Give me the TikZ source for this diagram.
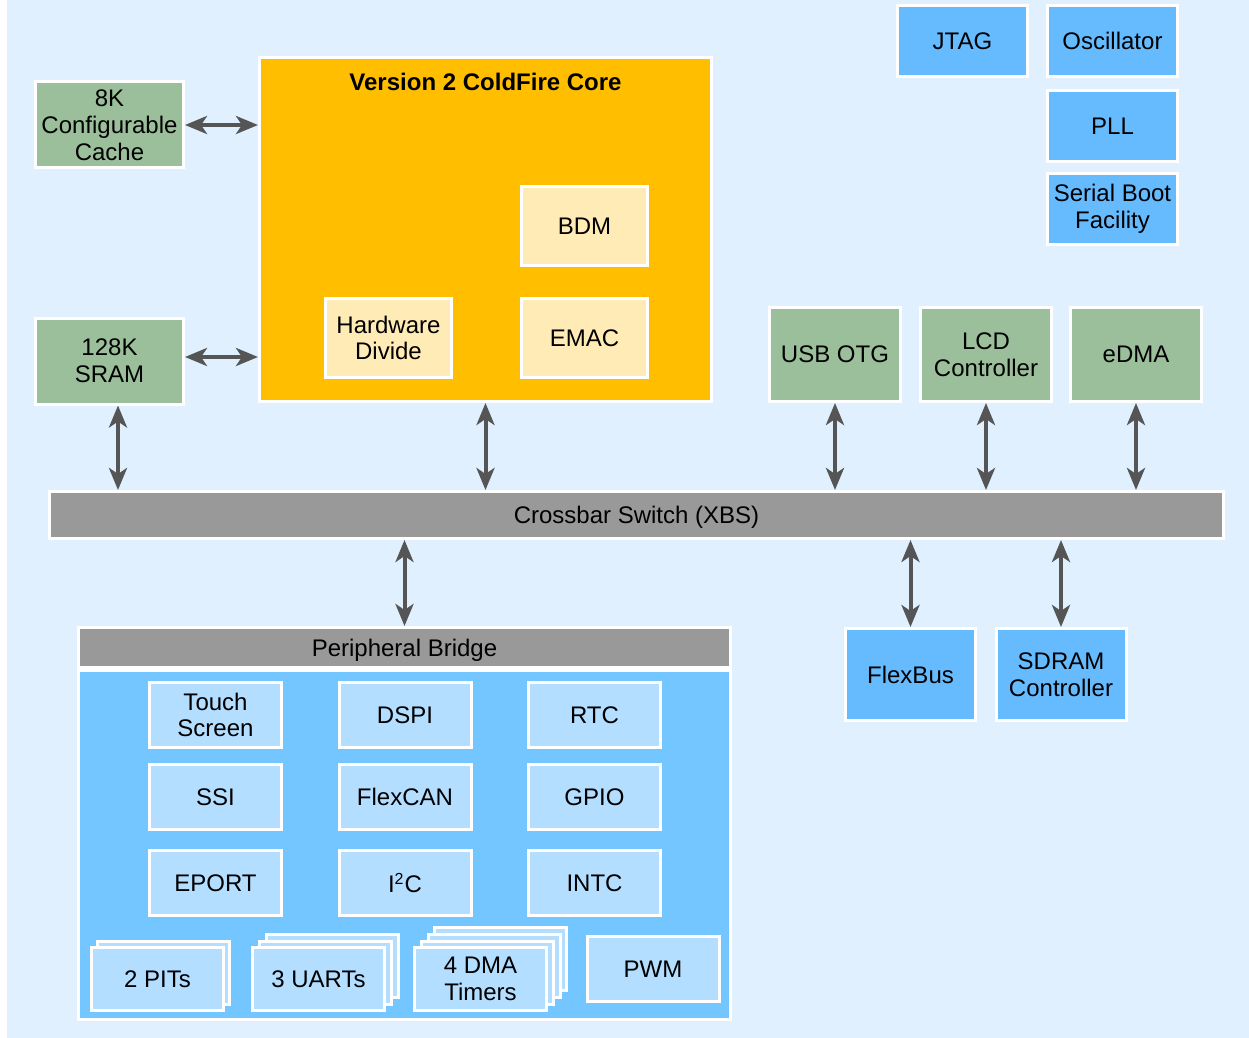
\documentclass[tikz,border=0pt]{standalone}
\usepackage{fontspec}
\setmainfont{Liberation Sans}
\usetikzlibrary{arrows.meta}
\definecolor{bgblue}{HTML}{E0F0FF}
\definecolor{modgreen}{HTML}{9BBF9B}
\definecolor{coreorange}{HTML}{FFBF00}
\definecolor{corecream}{HTML}{FFEBB5}
\definecolor{sysblue}{HTML}{66BBFF}
\definecolor{bridgeblue}{HTML}{73C6FF}
\definecolor{periblue}{HTML}{B3DEFF}
\definecolor{busgray}{HTML}{999999}
\definecolor{arrowgray}{HTML}{555555}
\begin{document}
\begin{tikzpicture}[x=0.5pt,y=-0.5pt,
 block/.style ={rectangle, draw=white, line width=1.5pt, align=center, inner sep=0pt, font=\fontsize{12}{13.4}\selectfont},
 sysblock/.style ={block, fill=sysblue, minimum width=65pt, minimum height=35.5pt},
 memblock/.style ={block, fill=modgreen, minimum width=74pt, minimum height=43pt},
 masterblock/.style ={block, fill=modgreen, minimum width=65.5pt, minimum height=47pt},
 coreblock/.style ={block, fill=corecream, minimum width=63pt, minimum height=39.5pt},
 extblock/.style ={block, fill=sysblue, minimum width=65pt, minimum height=46pt},
 periph/.style ={block, fill=periblue, minimum width=66pt, minimum height=32.5pt},
 stackbox/.style ={block, fill=periblue, minimum width=66pt, minimum height=31.5pt},
 line/.style ={draw=arrowgray, line width=2pt, {Stealth[length=11pt,width=9pt,inset=3pt]}-{Stealth[length=11pt,width=9pt,inset=3pt]}}]

\useasboundingbox (0,0) rectangle (1249,1038);
\fill[bgblue] (7,0) rectangle (1249,1038);

% system blocks, top right
\draw (962.5,41) node[sysblock] (jtag) {JTAG};
\draw (1112.5,41) node[sysblock] (osc) {Oscillator};
\draw (1112.5,126) node[sysblock] (pll) {PLL};
\draw (1112.5,209) node[sysblock] (sbf) {Serial Boot\\Facility};

% memories
\draw (109.5,125) node[memblock] (cache) {8K\\Configurable\\Cache};
\draw (109.5,361) node[memblock] (sram) {128K\\SRAM};

% core
\draw (485.5,229.5) node[block, fill=coreorange, minimum width=226pt, minimum height=172pt] (core) {};
\draw (485.5,82) node[font=\fontsize{12}{13.4}\selectfont\bfseries] (coretitle) {Version 2 ColdFire Core};
\draw (584.5,226) node[coreblock] (bdm) {BDM};
\draw (388.5,338) node[coreblock] (hwdiv) {Hardware\\Divide};
\draw (584.5,338) node[coreblock] (emac) {EMAC};

% bus masters
\draw (835,354.5) node[masterblock] (usb) {USB OTG};
\draw (986,354.5) node[masterblock] (lcd) {LCD\\Controller};
\draw (1136,354.5) node[masterblock] (edma) {eDMA};

% crossbar
\draw (636.5,515) node[block, fill=busgray, minimum width=587pt, minimum height=23.5pt, text depth=0pt] (xbs) {Crossbar Switch (XBS)};

% external bus
\draw (910.5,674.5) node[extblock] (flexbus) {FlexBus};
\draw (1061,674.5) node[extblock] (sdram) {SDRAM\\Controller};

% peripheral bridge
\draw (404.5,845) node[block, fill=bridgeblue, minimum width=326pt, minimum height=174.5pt] (bridgebody) {};
\draw (404.5,647.5) node[block, fill=busgray, minimum width=326pt, minimum height=20pt, text depth=0pt] (bridge) {Peripheral Bridge};

\draw (215.5,715) node[periph] (touch) {Touch\\Screen};
\draw (405,715) node[periph] (dspi) {DSPI};
\draw (594.5,715) node[periph] (rtc) {RTC};
\draw (215.5,797) node[periph] (ssi) {SSI};
\draw (405,797) node[periph] (flexcan) {FlexCAN};
\draw (594.5,797) node[periph] (gpio) {GPIO};
\draw (215.5,883) node[periph] (eport) {EPORT};
\draw (405,883) node[periph] (iic) {I\textsuperscript{2}C};
\draw (594.5,883) node[periph] (intc) {INTC};

% stacked modules
\draw (163.5,972.5) node[stackbox] (pitsB) {};
\draw (157.5,979) node[stackbox] (pits) {2 PITs};
\draw (332,966) node[stackbox] (uartsC) {};
\draw (325,972.5) node[stackbox] (uartsB) {};
\draw (318.5,979) node[stackbox] (uarts) {3 UARTs};
\draw (500.5,959) node[stackbox] (dmaD) {};
\draw (494,966) node[stackbox] (dmaC) {};
\draw (487,972.5) node[stackbox] (dmaB) {};
\draw (480.5,979) node[stackbox] (dma) {4 DMA\\Timers};
\draw (653,969) node[periph] (pwm) {PWM};

% connections
\draw [line] (cache.east) to (cache.east -| core.west);
\draw [line] ([yshift=2pt]sram.east) to ([yshift=2pt]sram.east -| core.west);
\draw [line] ([xshift=4.25pt]sram.south) to ([xshift=4.25pt]sram.south |- xbs.north);
\draw [line] (core.south) to (core.south |- xbs.north);
\draw [line] (usb.south) to (usb.south |- xbs.north);
\draw [line] (lcd.south) to (lcd.south |- xbs.north);
\draw [line] (edma.south) to (edma.south |- xbs.north);
\draw [line] (bridge.north |- xbs.south) to (bridge.north);
\draw [line] (flexbus.north |- xbs.south) to (flexbus.north);
\draw [line] (sdram.north |- xbs.south) to (sdram.north);

\end{tikzpicture}
\end{document}
